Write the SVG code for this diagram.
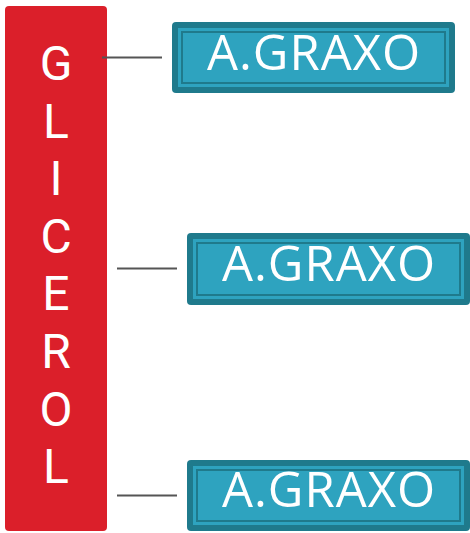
<svg xmlns="http://www.w3.org/2000/svg" width="470" height="533" viewBox="0 0 470 533">
<style>
.red{fill:#db1f2a}
.let{font-family:Roboto,"Open Sans",sans-serif;font-size:48px;fill:#ffffff;text-anchor:middle}
.outer{fill:#1f7a8c}
.band{fill:#2ea3bf}
.line{fill:none;stroke:#1f7a8c;stroke-width:2}
.lbl{font-family:"Open Sans","Noto Sans",sans-serif;font-size:49px;fill:#ffffff;text-anchor:middle;letter-spacing:1px}
.conn{stroke:#555555;stroke-width:2}
</style>
<rect width="470" height="533" fill="#ffffff"/>
<g id="glicerol">
<rect class="red" x="5" y="6" width="102" height="525" rx="4"/>
<text class="let" x="56" y="80">G</text>
<text class="let" x="56" y="137.6">L</text>
<text class="let" x="56" y="195.2">I</text>
<text class="let" x="56" y="252.8">C</text>
<text class="let" x="56" y="310.4">E</text>
<text class="let" x="56" y="368">R</text>
<text class="let" x="56" y="425.6">O</text>
<text class="let" x="56" y="483.2">L</text>
</g>
<g id="connectors">
<line class="conn" x1="102" y1="57.5" x2="162" y2="57.5"/>
<line class="conn" x1="117" y1="268.5" x2="177" y2="268.5"/>
<line class="conn" x1="117" y1="495.5" x2="177" y2="495.5"/>
</g>
<g id="graxo1">
<rect class="outer" x="172" y="22" width="283" height="71" rx="4"/>
<rect class="band" x="178" y="28" width="271" height="59"/>
<rect class="line" x="182" y="32" width="263" height="51"/>
<text class="lbl" x="314" y="70">A.GRAXO</text>
</g>
<g id="graxo2">
<rect class="outer" x="187" y="233" width="283" height="72" rx="4"/>
<rect class="band" x="193" y="239" width="271" height="60"/>
<rect class="line" x="197" y="243" width="263" height="52"/>
<text class="lbl" x="329" y="281">A.GRAXO</text>
</g>
<g id="graxo3">
<rect class="outer" x="187" y="460" width="283" height="71" rx="4"/>
<rect class="band" x="193" y="466" width="271" height="59"/>
<rect class="line" x="197" y="470" width="263" height="51"/>
<text class="lbl" x="329" y="507">A.GRAXO</text>
</g>
</svg>
